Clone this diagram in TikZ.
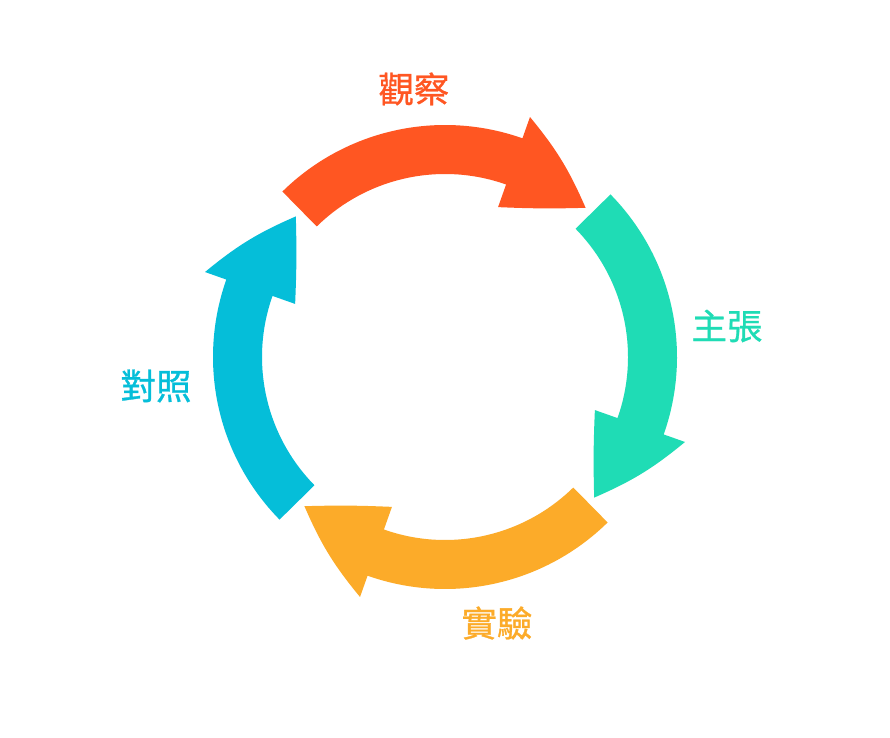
\documentclass[tikz,border=0pt]{standalone}
\usepackage{fontspec}
\newfontfamily\cjk[FakeBold=0.8]{Noto Sans CJK TC}
\usetikzlibrary{calc}
\definecolor{cRed}{HTML}{FF5622}
\definecolor{cTeal}{HTML}{1FDCB5}
\definecolor{cOrange}{HTML}{FCAB29}
\definecolor{cBlue}{HTML}{05BED9}
\tikzset{lbl/.style={font=\cjk\fontsize{35.5}{40}\selectfont, inner sep=0pt}}
\newcommand\cyclearrow[2]{%
  \pgfmathsetmacro\aT{134.5-#2}%
  \pgfmathsetmacro\aB{70.5-#2}%
  \pgfmathsetmacro\aP{46.7-#2}%
  \fill[#1] ($(c)+(\aT:232pt)$) arc[start angle=\aT, end angle=\aB, radius=232pt]
    -- ($(c)+(\aB:254.6pt)$) to[bend left=8] ($(c)+(\aP:205pt)$)
    to[bend left=2] ($(c)+(\aB:159pt)$) -- ($(c)+(\aB:183pt)$)
    arc[start angle=\aB, end angle=\aT, radius=183pt] -- cycle;}
\begin{document}
\begin{tikzpicture}[x=1pt,y=1pt]
\useasboundingbox (0,0) rectangle (890,737);
\fill[white] (0,0) rectangle (890,737);
\coordinate (c) at (445,380);
\cyclearrow{cRed}{0}
\cyclearrow{cTeal}{90}
\cyclearrow{cOrange}{180}
\cyclearrow{cBlue}{270}
\node[lbl, text=cRed] (obs) at (414,648) {觀察};
\node[lbl, text=cTeal] (claim) at (727,411) {主張};
\node[lbl, text=cOrange] (exp) at (497,114) {實驗};
\node[lbl, text=cBlue] (ctrl) at (156,351) {對照};
\end{tikzpicture}
\end{document}
